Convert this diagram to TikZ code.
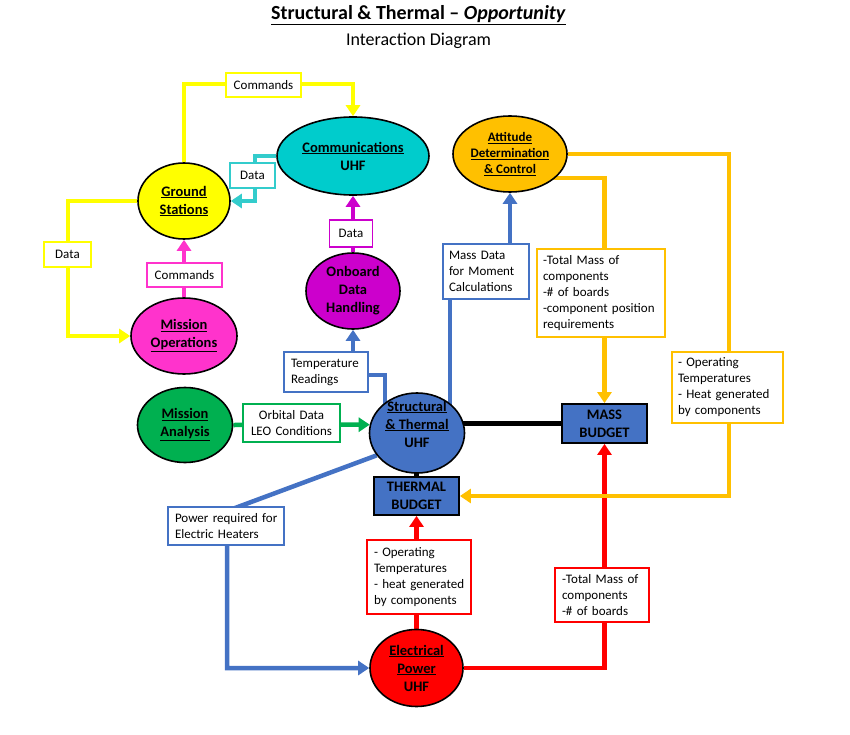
\documentclass[tikz,border=0pt]{standalone}
\usepackage{fontspec}
\setmainfont{Carlito}
\usetikzlibrary{shapes.geometric,arrows.meta,calc}
\pgfdeclarelayer{bg}
\pgfsetlayers{bg,main}
\definecolor{cYel}{HTML}{FFFF00}
\definecolor{cCyan}{HTML}{00CCCC}
\definecolor{cCyanL}{HTML}{33CCCC}
\definecolor{cPink}{HTML}{FF33CC}
\definecolor{cMag}{HTML}{CC00CC}
\definecolor{cOra}{HTML}{FFC000}
\definecolor{cGreen}{HTML}{00B050}
\definecolor{cBlue}{HTML}{4472C4}
\definecolor{cRed}{HTML}{FF0000}
\newcommand{\lnx}[1]{\mbox{#1}}
\tikzset{
  ell/.style={ellipse, draw=black, line width=1.6pt, inner sep=0pt, font=\fontsize{14.5}{18}\selectfont\bfseries, align=center},
  ebtext/.style={inner sep=0pt, font=\fontsize{14.5}{18}\selectfont\bfseries, align=center},
  bud/.style={rectangle, draw=black, line width=1.8pt, fill=cBlue, inner sep=0pt, font=\fontsize{14.5}{18}\selectfont\bfseries, align=center},
  lbl/.style={rectangle, draw=#1, line width=1.4pt, fill=white, inner sep=0pt, font=\fontsize{13}{16}\selectfont},
  con/.style={draw=#1, line width=4.5pt},
  arr/.style={-{Triangle[length=11pt,width=14pt]}},
}
\begin{document}
\begin{tikzpicture}[x=1pt,y=-1pt]
\useasboundingbox (0,0) rectangle (850,735);
\node[inner sep=0pt, font=\fontsize{20}{24}\selectfont\bfseries] (title) at (418.5,15) {\underline{Structural \& Thermal – \textit{Opportunity}}};
\node[inner sep=0pt, font=\fontsize{18}{21}\selectfont] (subtitle) at (418.5,41) {Interaction Diagram};

% ellipses
\node[ell, fill=cYel, minimum width=92pt, minimum height=76pt] (gs) at (184,201) {\underline{Ground}\\\underline{Stations}};
\node[ell, fill=cCyan, minimum width=152pt, minimum height=78pt] (comm) at (353,156) {\underline{Communications}\\UHF};
\node[ell, fill=cPink, minimum width=106pt, minimum height=76pt] (mo) at (184,336) {\underline{Mission}\\\underline{Operations}};
\node[ell, fill=cMag, minimum width=94pt, minimum height=76pt] (odh) at (353,291) {Onboard\\Data\\Handling};
\node[ell, fill=cOra, minimum width=114pt, minimum height=76pt, font=\fontsize{13}{16}\selectfont\bfseries] (adc) at (510,154) {\underline{Attitude}\\\underline{Determination}\\\underline{\& Control}};
\node[ell, fill=cGreen, minimum width=95pt, minimum height=75pt] (ma) at (185,425) {\underline{Mission}\\\underline{Analysis}};
\node[ell, fill=cBlue, minimum width=95pt, minimum height=80pt] (st) at (417,433) {};
\node[ebtext] (sttext) at (417,424) {\underline{Structural}\\\underline{\& Thermal}\\UHF};
\node[ell, fill=cRed, minimum width=93pt, minimum height=77pt] (ep) at (416.5,668) {\underline{Electrical}\\\underline{Power}\\UHF};

% budgets
\node[bud, minimum width=85pt, minimum height=39pt] (mass) at (604.5,423.5) {MASS\\BUDGET};
\node[bud, minimum width=85pt, minimum height=38pt] (thermal) at (416.5,496) {THERMAL\\BUDGET};

% labels
\node[lbl=cYel, minimum width=75pt, minimum height=24pt] (cmd1) at (263.5,85) {Commands};
\node[lbl=cCyanL, minimum width=45pt, minimum height=25pt] (data1) at (252.5,175.5) {Data};
\node[lbl=cYel, minimum width=47pt, minimum height=25pt] (data2) at (67.5,254.5) {Data};
\node[lbl=cPink, minimum width=75pt, minimum height=24pt] (cmd2) at (184.5,275) {Commands};
\node[lbl=cMag, minimum width=43pt, minimum height=27pt] (data3) at (351,233.5) {Data};
\node[lbl=cBlue, minimum width=84pt, minimum height=40pt, text width=70pt, align=left] (temp) at (326,372) {\lnx{Temperature}\\\lnx{Readings}};
\node[lbl=cGreen, minimum width=97pt, minimum height=38pt, text width=90pt, align=center] (orb) at (291.5,423) {\lnx{Orbital Data}\\\lnx{LEO Conditions}};
\node[lbl=cBlue, minimum width=116pt, minimum height=38pt, text width=102pt, align=left] (pwr) at (226,526) {\lnx{Power required for}\\\lnx{Electric Heaters}};
\node[lbl=cBlue, minimum width=86pt, minimum height=55pt, text width=74pt, align=left] (massdata) at (486,271.5) {\lnx{Mass Data}\\\lnx{for Moment}\\\lnx{Calculations}};
\node[lbl=cOra, minimum width=128pt, minimum height=88pt, text width=116pt, align=left] (totmass) at (601,293) {\lnx{-Total Mass of}\\\lnx{components}\\\lnx{-\# of boards}\\\lnx{-component position}\\\lnx{requirements}};
\node[lbl=cOra, minimum width=111pt, minimum height=71pt, text width=99pt, align=left] (optemp) at (727.5,387.5) {\lnx{- Operating}\\\lnx{Temperatures}\\\lnx{- Heat generated}\\\lnx{by components}};
\node[lbl=cRed, minimum width=104pt, minimum height=74pt, text width=90pt, align=left] (redop) at (419,577) {\lnx{- Operating}\\\lnx{Temperatures}\\\lnx{- heat generated}\\\lnx{by components}};
\node[lbl=cRed, minimum width=94pt, minimum height=54pt, text width=80pt, align=left] (redmass) at (602,595) {\lnx{-Total Mass of}\\\lnx{components}\\\lnx{-\# of boards}};

% connectors
\begin{pgfonlayer}{bg}
\coordinate (ytop) at (184,84);
\draw[con=cYel, arr] (gs.north) -- (ytop) -| (comm.north);
\coordinate (cb) at (255,201);
\draw[con=cCyanL, line width=4pt, arr] (comm.west) -| (cb) -- (gs.east);
\coordinate (yl) at (68,201);
\draw[con=cYel, arr] (gs.west) -- (yl) |- (mo.west);
\draw[con=cPink, arr] (mo.north) -- (gs.south);
\draw[con=cMag, arr] (odh.north) -- (comm.south);
\coordinate (tb) at (385,375);
\draw[con=cBlue, arr] (tb |- st.center) -- (tb) -| (odh.south);
\coordinate (mb) at (450,270);
\draw[con=cBlue, arr] (mb |- st.center) -- (mb) -| (adc.south);
\draw[con=cGreen, arr] (ma.east) -- (st.170);
\coordinate (pb) at (227,511);
\draw[con=cBlue, arr] (st.209) -- (pb) |- (ep.west);
\draw[con=black] (st.center |- mass.west) -- (mass.west);
\draw[con=black] (st.center -| thermal.north) -- (thermal.north);
\draw[con=cRed, arr] (ep.north) -- (thermal.south);
\draw[con=cRed, arr] (ep.east) -| (mass.south);
\coordinate (ob) at (729,496);
\draw[con=cOra, arr] (adc.east) -| (ob) -- (thermal.east);
\coordinate (o2) at (604.5,178);
\draw[con=cOra, arr] (o2 -| adc.center) -- (o2) -- (mass.north);
\end{pgfonlayer}
\end{tikzpicture}
\end{document}
